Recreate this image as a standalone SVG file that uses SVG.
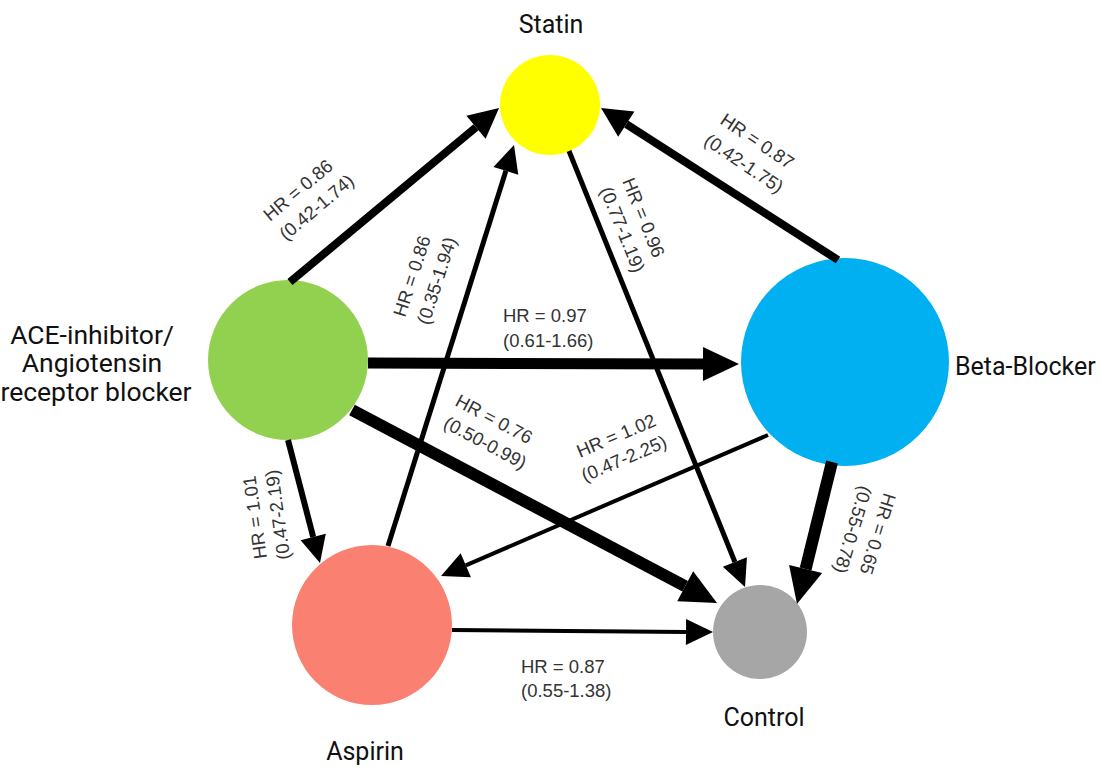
<svg xmlns="http://www.w3.org/2000/svg" width="1100" height="767" viewBox="0 0 1100 767">
<style>
.lbl{font-family:"Liberation Sans",Arial,sans-serif;font-size:18.5px;fill:#333}
.name{font-family:Roboto,"Liberation Sans",sans-serif;font-size:25px;fill:#111}
.edge{stroke:#000;fill:none;stroke-linecap:butt}
</style>
<defs>
<marker id="hL" markerUnits="userSpaceOnUse" orient="auto" refX="0" refY="0" markerWidth="40" markerHeight="40" overflow="visible"><path d="M0,-17 L36,0 L0,17 Z" fill="#000"/></marker>
<marker id="hM" markerUnits="userSpaceOnUse" orient="auto" refX="0" refY="0" markerWidth="40" markerHeight="40" overflow="visible"><path d="M0,-15 L30,0 L0,15 Z" fill="#000"/></marker>
<marker id="hS" markerUnits="userSpaceOnUse" orient="auto" refX="0" refY="0" markerWidth="40" markerHeight="40" overflow="visible"><path d="M0,-13 L27,0 L0,13 Z" fill="#000"/></marker>
</defs>
<rect width="1100" height="767" fill="#fff"/>
<g id="statin"><circle cx="550" cy="105" r="50" fill="#FFFF00"/><text class="name" x="551" y="33" text-anchor="middle">Statin</text></g>
<g id="ace"><circle cx="288" cy="360" r="80" fill="#92D050"/><text class="name" text-anchor="middle" style="font-size:26.5px"><tspan x="92" y="344">ACE-inhibitor/</tspan><tspan x="92" y="372">Angiotensin</tspan><tspan x="96" y="401">receptor blocker</tspan></text></g>
<g id="beta"><circle cx="845" cy="362" r="104" fill="#00B0F0"/><text class="name" x="955" y="375">Beta-Blocker</text></g>
<g id="aspirin"><circle cx="372" cy="625" r="80" fill="#FA8072"/><text class="name" x="365" y="760" text-anchor="middle">Aspirin</text></g>
<g id="control"><circle cx="760" cy="632" r="47" fill="#A6A6A6"/><text class="name" x="764" y="726" text-anchor="middle">Control</text></g>
<g id="connectors">
<line class="edge" x1="290" y1="282" x2="476" y2="127.2" stroke-width="8" marker-end="url(#hM)"/>
<line class="edge" x1="388" y1="546" x2="505.9" y2="170.8" stroke-width="5" marker-end="url(#hS)"/>
<line class="edge" x1="569" y1="151" x2="734.9" y2="562" stroke-width="5" marker-end="url(#hS)"/>
<line class="edge" x1="838" y1="260" x2="626.3" y2="124.2" stroke-width="8" marker-end="url(#hM)"/>
<line class="edge" x1="368" y1="363" x2="703" y2="364" stroke-width="11" marker-end="url(#hL)"/>
<line class="edge" x1="352" y1="410" x2="685.2" y2="586.2" stroke-width="12" marker-end="url(#hL)"/>
<line class="edge" x1="768" y1="435" x2="465.8" y2="565.3" stroke-width="4" marker-end="url(#hS)"/>
<line class="edge" x1="288" y1="440" x2="313.2" y2="536.9" stroke-width="6" marker-end="url(#hS)"/>
<line class="edge" x1="832" y1="462" x2="805.6" y2="569" stroke-width="12" marker-end="url(#hL)"/>
<line class="edge" x1="452" y1="630" x2="686" y2="631.9" stroke-width="4" marker-end="url(#hS)"/>
</g>
<g id="labels">
<g transform="translate(270,222) rotate(-40)"><text class="lbl" x="0" y="0">HR = 0.86</text><text class="lbl" x="0" y="25">(0.42-1.74)</text></g>
<g transform="translate(405,318) rotate(-72)"><text class="lbl" x="0" y="0">HR = 0.86</text><text class="lbl" x="0" y="25">(0.35-1.94)</text></g>
<g transform="translate(622,181) rotate(68)"><text class="lbl" x="0" y="0">HR = 0.96</text><text class="lbl" x="0" y="24">(0.77-1.19)</text></g>
<g transform="translate(719,123) rotate(34)"><text class="lbl" x="0" y="0">HR = 0.87</text><text class="lbl" x="-2" y="26">(0.42-1.75)</text></g>
<text class="lbl" x="503" y="322">HR = 0.97</text><text class="lbl" x="503" y="347">(0.61-1.66)</text>
<g transform="translate(454,405) rotate(28)"><text class="lbl" x="0" y="0">HR = 0.76</text><text class="lbl" x="0" y="25">(0.50-0.99)</text></g>
<g transform="translate(580,458) rotate(-23)"><text class="lbl" x="0" y="0">HR = 1.02</text><text class="lbl" x="-5" y="24">(0.47-2.25)</text></g>
<g transform="translate(267,558) rotate(-98)"><text class="lbl" x="0" y="0">HR = 1.01</text><text class="lbl" x="-4" y="23">(0.47-2.19)</text></g>
<g transform="translate(884,492) rotate(107)"><text class="lbl" x="0" y="0">HR = 0.65</text><text class="lbl" x="0" y="25">(0.55-0.78)</text></g>
<text class="lbl" x="521" y="673">HR = 0.87</text><text class="lbl" x="521" y="697">(0.55-1.38)</text>
</g>
</svg>
